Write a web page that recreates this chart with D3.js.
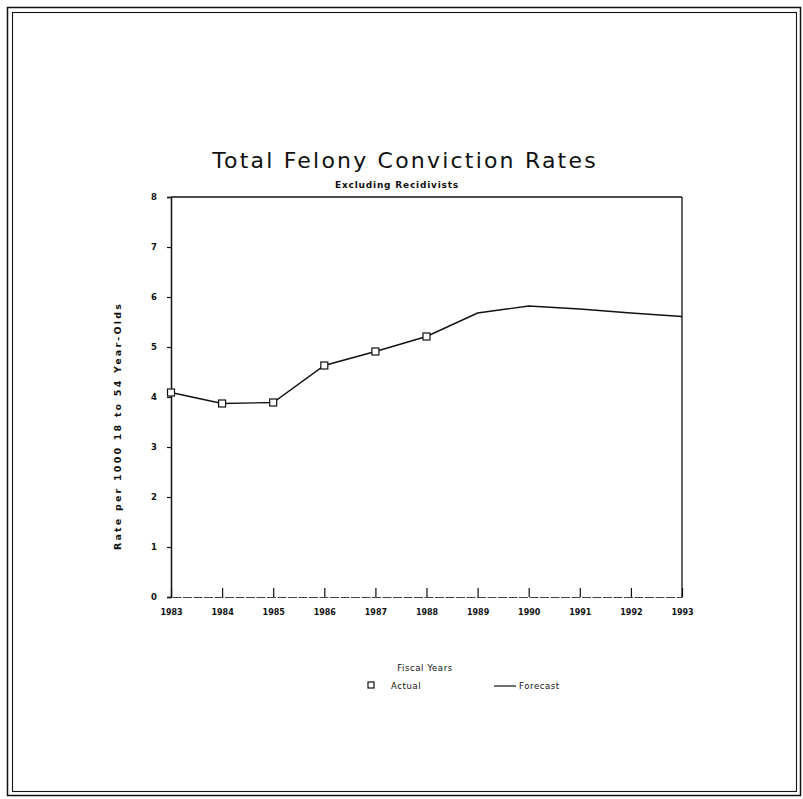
<!DOCTYPE html>
<html>
<head>
<meta charset="utf-8">
<script src="https://cdn.jsdelivr.net/npm/d3@7/dist/d3.min.js"></script>
<style>
  html, body { margin: 0; padding: 0; background: #fff; }
  svg { display: block; }
</style>
</head>
<body>
<svg id="chart" width="803" height="799"></svg>
<script>
// ---- Data ----
const years = [1983, 1984, 1985, 1986, 1987, 1988, 1989, 1990, 1991, 1992, 1993];
const forecastValues = [4.09, 3.87, 3.89, 4.63, 4.91, 5.21, 5.68, 5.82, 5.76, 5.68, 5.61];
const actualYears = [1983, 1984, 1985, 1986, 1987, 1988];
const actualValues = [4.09, 3.87, 3.89, 4.63, 4.91, 5.21];
const yTicks = [0, 1, 2, 3, 4, 5, 6, 7, 8];
const xTickLabels = ["1983", "1984", "1985", "1986", "1987", "1988", "1989", "1990", "1991", "1992", "1993"];

const titleText = "Total Felony Conviction Rates";
const subtitleText = "Excluding Recidivists";
const yTitle = "Rate per 1000 18 to 54 Year-Olds";
const xTitle = "Fiscal Years";
const legendActual = "Actual";
const legendForecast = "Forecast";

(function () {
// ---- Layout ----
const svg = d3.select("#chart");
const pL = 171, pR = 682, pT = 197, pB = 597;

const x = d3.scaleLinear().domain([1983, 1993]).range([pL, pR]);
const y = d3.scaleLinear().domain([0, 8]).range([pB, pT]);

// frame (double border)
svg.append("rect").attr("x", 7.5).attr("y", 7.5).attr("width", 793).attr("height", 788)
  .attr("fill", "none").attr("stroke", "#111").attr("stroke-width", 1.5);
svg.append("rect").attr("x", 12.5).attr("y", 12.5).attr("width", 784).attr("height", 779)
  .attr("fill", "none").attr("stroke", "#111").attr("stroke-width", 1.1);

// title
svg.append("text").attr("x", 405).attr("y", 168).attr("text-anchor", "middle")
  .attr("font-family", "DejaVu Sans").attr("font-size", 22).attr("letter-spacing", 2.2)
  .attr("fill", "#111").text(titleText);
svg.append("text").attr("x", 397).attr("y", 188).attr("text-anchor", "middle")
  .attr("font-family", "DejaVu Sans").attr("font-weight", "bold").attr("font-size", 9)
  .attr("letter-spacing", 0.8).attr("fill", "#111").text(subtitleText);

// plot border: top and right lines
svg.append("line").attr("x1", pL).attr("x2", pR).attr("y1", pT).attr("y2", pT)
  .attr("stroke", "#111").attr("stroke-width", 1.3);
svg.append("line").attr("x1", pR).attr("x2", pR).attr("y1", pT).attr("y2", pB)
  .attr("stroke", "#111").attr("stroke-width", 1.3);

// y axis
const yAxis = d3.axisLeft(y).tickValues(yTicks).tickSize(4).tickPadding(10)
  .tickFormat(d3.format("d"));
const gy = svg.append("g").attr("transform", `translate(${pL},0)`).call(yAxis);
gy.select(".domain").attr("stroke", "#111").attr("stroke-width", 1.5);
gy.selectAll(".tick line").attr("stroke", "#111").attr("stroke-width", 1.2);
gy.selectAll(".tick text").attr("font-family", "DejaVu Sans").attr("font-weight", "bold")
  .attr("font-size", 8.5).attr("fill", "#111");

// x axis (ticks pointing upward into plot)
const xAxis = d3.axisBottom(x).tickValues(years).tickSize(-9).tickPadding(18)
  .tickFormat((d, i) => xTickLabels[i]);
const gx = svg.append("g").attr("transform", `translate(0,${pB})`).call(xAxis);
gx.select(".domain").attr("stroke", "#444").attr("stroke-width", 1).attr("stroke-dasharray", "9,1.5");
gx.selectAll(".tick line").attr("stroke", "#111").attr("stroke-width", 1.2);
gx.selectAll(".tick text").attr("font-family", "DejaVu Sans").attr("font-weight", "bold")
  .attr("font-size", 8).attr("fill", "#111").attr("dy", "0");

// y title
svg.append("text")
  .attr("transform", `translate(121,426) rotate(-90)`)
  .attr("text-anchor", "middle").attr("font-family", "DejaVu Sans").attr("font-weight", "bold")
  .attr("font-size", 9.5).attr("letter-spacing", 2.2).attr("fill", "#111").text(yTitle);

// x title
svg.append("text").attr("x", 425).attr("y", 671).attr("text-anchor", "middle")
  .attr("font-family", "DejaVu Sans").attr("font-size", 8.5).attr("letter-spacing", 0.6)
  .attr("fill", "#111").text(xTitle);

// forecast line
const line = d3.line().x((d, i) => x(years[i])).y(d => y(d));
svg.append("path").datum(forecastValues).attr("d", line)
  .attr("fill", "none").attr("stroke", "#111").attr("stroke-width", 1.4);

// actual markers
const ms = 7;
svg.append("g").selectAll("rect").data(actualValues).join("rect")
  .attr("x", (d, i) => x(actualYears[i]) - ms / 2)
  .attr("y", d => y(d) - ms / 2)
  .attr("width", ms).attr("height", ms)
  .attr("fill", "#fff").attr("stroke", "#111").attr("stroke-width", 1.2);

// legend
const ly = 686;
svg.append("rect").attr("x", 368).attr("y", ly - 4).attr("width", 6).attr("height", 6)
  .attr("fill", "#fff").attr("stroke", "#111").attr("stroke-width", 1.2);
svg.append("text").attr("x", 391).attr("y", ly + 3).attr("font-family", "DejaVu Sans")
  .attr("font-size", 8.5).attr("letter-spacing", 0.6).attr("fill", "#111").text(legendActual);
svg.append("line").attr("x1", 494).attr("x2", 516).attr("y1", ly).attr("y2", ly)
  .attr("stroke", "#111").attr("stroke-width", 1.2);
svg.append("text").attr("x", 519).attr("y", ly + 3).attr("font-family", "DejaVu Sans")
  .attr("font-size", 8.5).attr("letter-spacing", 0.6).attr("fill", "#111").text(legendForecast);
})();
</script>
</body>
</html>
